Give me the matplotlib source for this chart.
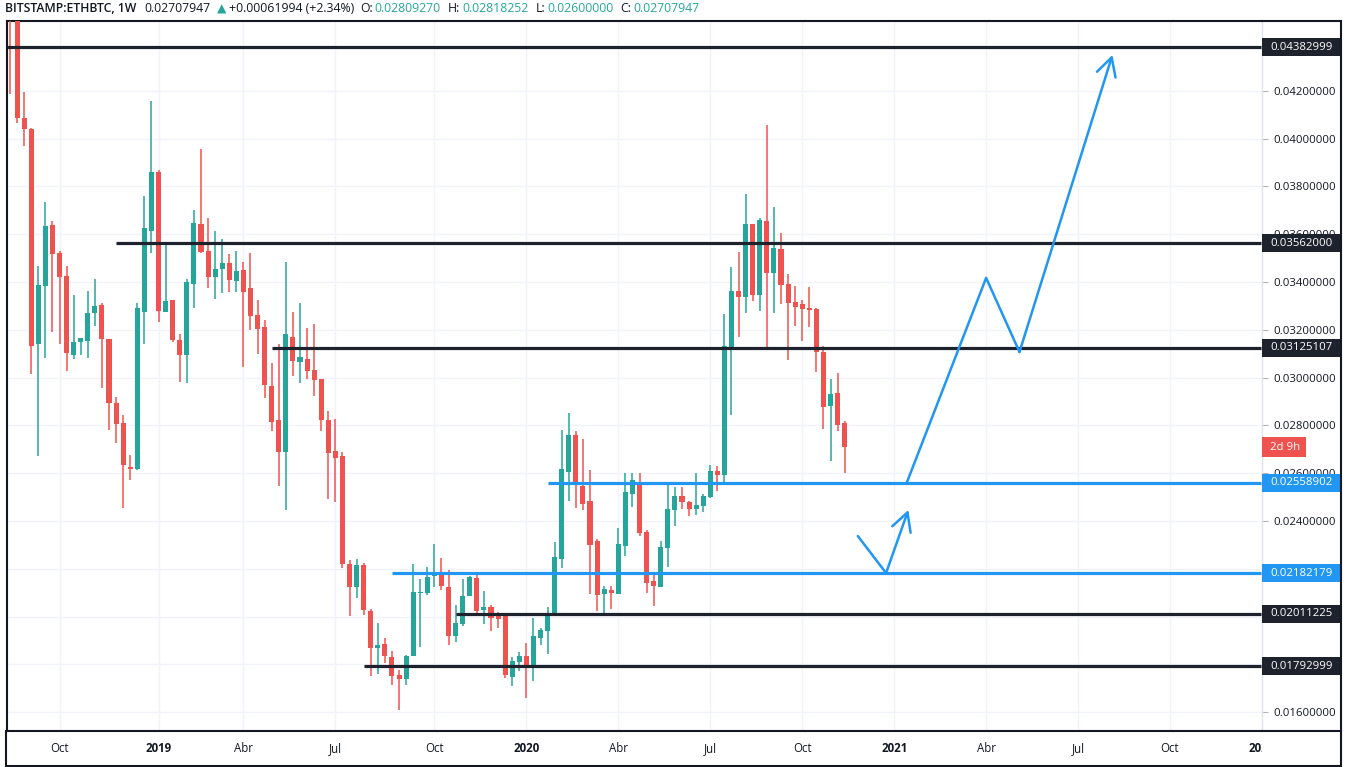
### DEPENDENCIES
### ------------------
import numpy as np
import pandas as pd
import matplotlib
matplotlib.use('Agg')
import matplotlib.pyplot as plt
import matplotlib.dates as mdates
from matplotlib.lines import Line2D
from matplotlib.patches import Rectangle
from matplotlib.transforms import blended_transform_factory, Bbox

### DATA
### ------------------
first_week = '2018-08-13'

opens = [0.0475, 0.0456, 0.04086, 0.04040, 0.03141, 0.03383, 0.03638, 0.03521, 0.03424, 0.03095,
         0.03149, 0.03153, 0.03269, 0.03304, 0.03161, 0.02893, 0.02810, 0.02626, 0.02618, 0.03274,
         0.03614, 0.03860, 0.03274, 0.03324, 0.03157, 0.03095, 0.03391, 0.03643, 0.03529, 0.03420,
         0.03454, 0.03479, 0.03404, 0.03450, 0.03374, 0.03261, 0.03211, 0.02965, 0.02822, 0.02688,
         0.03170, 0.03066, 0.03078, 0.03032, 0.02992, 0.02822, 0.02692, 0.02672, 0.02219, 0.02124,
         0.02215, 0.02023, 0.01868, 0.01886, 0.01831, 0.01755, 0.01739, 0.01835, 0.02099, 0.02099,
         0.02169, 0.02186, 0.02124, 0.01919, 0.01969, 0.02087, 0.02161, 0.02027, 0.02040, 0.02002,
         0.02002, 0.01747, 0.01810, 0.01835, 0.01785, 0.01911, 0.01940, 0.02010, 0.02240, 0.02605,
         0.02759, 0.02546, 0.02483, 0.02316, 0.02095, 0.02111, 0.02095, 0.02295, 0.02513, 0.02563,
         0.02353, 0.02149, 0.02124, 0.02287, 0.02446, 0.02504, 0.02479, 0.02450, 0.02463, 0.02500,
         0.02609, 0.02593, 0.03128, 0.03362, 0.03337, 0.03643, 0.03345, 0.03655, 0.03437, 0.03538,
         0.03391, 0.03316, 0.03308, 0.03291, 0.03287, 0.03107, 0.02881, 0.02935, 0.02809270]
highs = [0.0482, 0.0460, 0.04195, 0.04044, 0.03467, 0.03734, 0.03655, 0.03529, 0.03467, 0.03345,
         0.03165, 0.03362, 0.03412, 0.03312, 0.03161, 0.02918, 0.02843, 0.02676, 0.03312, 0.03759,
         0.04156, 0.03868, 0.03559, 0.03324, 0.03182, 0.03412, 0.03701, 0.03956, 0.03668, 0.03614,
         0.03579, 0.03517, 0.03529, 0.03484, 0.03521, 0.03324, 0.03240, 0.03062, 0.03141, 0.03484,
         0.03274, 0.03312, 0.03207, 0.03224, 0.02992, 0.02860, 0.02827, 0.02688, 0.02236, 0.02240,
         0.02223, 0.02031, 0.01973, 0.01910, 0.01855, 0.01776, 0.01839, 0.02219, 0.02157, 0.02207,
         0.02304, 0.02244, 0.02194, 0.02048, 0.02157, 0.02169, 0.02178, 0.02107, 0.02048, 0.02019,
         0.02006, 0.01831, 0.01851, 0.01890, 0.01994, 0.01952, 0.02040, 0.02312, 0.02781, 0.02851,
         0.02777, 0.02742, 0.02613, 0.02324, 0.02128, 0.02128, 0.02370, 0.02601, 0.02601, 0.02601,
         0.02362, 0.02178, 0.02316, 0.02558, 0.02542, 0.02542, 0.02483, 0.02601, 0.02513, 0.02634,
         0.02630, 0.03265, 0.03462, 0.03525, 0.03768, 0.03643, 0.03668, 0.04057, 0.03713, 0.03605,
         0.03433, 0.03383, 0.03324, 0.03379, 0.03291, 0.03132, 0.02994, 0.03019, 0.02818252]
lows = [0.04187, 0.04064, 0.03968, 0.03015, 0.02672, 0.03082, 0.03190, 0.03140, 0.03027, 0.03078,
        0.03095, 0.03082, 0.03215, 0.02956, 0.02781, 0.02726, 0.02454, 0.02572, 0.02613, 0.03141,
        0.03521, 0.03232, 0.03274, 0.03149, 0.02981, 0.02977, 0.03291, 0.03521, 0.03374, 0.03329,
        0.03354, 0.03358, 0.03358, 0.03045, 0.03199, 0.03099, 0.02915, 0.02777, 0.02546, 0.02446,
        0.03006, 0.02977, 0.02992, 0.02923, 0.02777, 0.02492, 0.02479, 0.02203, 0.02002, 0.02077,
        0.02006, 0.01751, 0.01760, 0.01805, 0.01714, 0.01609, 0.01714, 0.01835, 0.01873, 0.02090,
        0.02124, 0.02111, 0.01881, 0.01894, 0.01960, 0.02087, 0.02014, 0.01969, 0.01940, 0.01952,
        0.01743, 0.01710, 0.01772, 0.01660, 0.01731, 0.01881, 0.01843, 0.02010, 0.02203, 0.02483,
        0.02454, 0.02446, 0.02095, 0.02023, 0.02014, 0.02031, 0.02095, 0.02253, 0.02459, 0.02337,
        0.02099, 0.02044, 0.02124, 0.02207, 0.02378, 0.02450, 0.02421, 0.02425, 0.02438, 0.02496,
        0.02525, 0.02554, 0.02843, 0.03170, 0.03269, 0.03320, 0.03278, 0.03120, 0.03269, 0.03308,
        0.03074, 0.03215, 0.03153, 0.03211, 0.03023, 0.02785, 0.02651, 0.02777, 0.02600000]
closes = [0.0456, 0.04086, 0.04040, 0.03132, 0.03387, 0.03634, 0.03517, 0.03420, 0.03103, 0.03149,
          0.03165, 0.03269, 0.03300, 0.03161, 0.02893, 0.02806, 0.02634, 0.02618, 0.03291, 0.03626,
          0.03860, 0.03278, 0.03320, 0.03157, 0.03095, 0.03399, 0.03647, 0.03525, 0.03420, 0.03454,
          0.03479, 0.03408, 0.03446, 0.03358, 0.03257, 0.03203, 0.02969, 0.02814, 0.02688, 0.03182,
          0.03070, 0.03086, 0.03027, 0.02990, 0.02822, 0.02684, 0.02663, 0.02219, 0.02124, 0.02215,
          0.02027, 0.01868, 0.01881, 0.01835, 0.01751, 0.01739, 0.01835, 0.02103, 0.02103, 0.02165,
          0.02186, 0.02128, 0.01919, 0.01973, 0.02087, 0.02165, 0.02023, 0.02040, 0.01994, 0.01990,
          0.01755, 0.01814, 0.01835, 0.01785, 0.01919, 0.01944, 0.02014, 0.02248, 0.02618, 0.02759,
          0.02550, 0.02471, 0.02299, 0.02090, 0.02115, 0.02099, 0.02304, 0.02521, 0.02572, 0.02349,
          0.02140, 0.02128, 0.02291, 0.02450, 0.02504, 0.02479, 0.02450, 0.02467, 0.02504, 0.02609,
          0.02593, 0.03132, 0.03362, 0.03337, 0.03643, 0.03345, 0.03659, 0.03437, 0.03542, 0.03387,
          0.03312, 0.03295, 0.03287, 0.03283, 0.03107, 0.02876, 0.02931, 0.02802, 0.02707947]

# horizontal levels drawn on the chart
level_prices = [0.04382999, 0.03562000, 0.03125107, 0.02558902, 0.02182179, 0.02011225, 0.01792999]
level_starts = [None, '2018-11-26', '2019-04-29', '2020-01-27', '2019-08-26', '2019-10-28', '2019-07-29']
level_kind = ['black', 'black', 'black', 'blue', 'blue', 'black', 'black']

# projected path (big and small arrows)
path_dates = ['2021-01-16', '2021-04-05', '2021-05-08', '2021-08-08']
path_prices = [0.02555, 0.03417, 0.03107, 0.04350]
small_dates = ['2020-11-29', '2020-12-27', '2021-01-18']
small_prices = [0.02337, 0.02182, 0.02446]

y_ticks = np.arange(0.016, 0.0421, 0.002)

### STYLE
### ------------------
UP = '#26a69a'
DOWN = '#ef5350'
DARK = '#1e222d'
BLUE = '#2196f3'
TXT = '#131722'
GRID = '#f0f3fa'
plt.rcParams['font.family'] = ['Open Sans', 'DejaVu Sans']

W, H = 1348, 767
fig = plt.figure(figsize=(W / 100, H / 100), dpi=100)
ax_l, ax_r, ax_t, ax_b = 7, 1262, 21, 731
ax = fig.add_axes([ax_l / W, 1 - ax_b / H, (ax_r - ax_l) / W, (ax_b - ax_t) / H])

dates = pd.date_range(first_week, periods=len(opens), freq='7D')
xd = mdates.date2num(dates)
px_day = 7.08 / 7.0
x_left = xd[0] - 3 / px_day
x_right = x_left + (ax_r - ax_l) / px_day
y_lo, y_hi = 0.015211, 0.044918
ax.set_xlim(x_left, x_right)
ax.set_ylim(y_lo, y_hi)
px_price = (y_hi - y_lo) / (ax_b - ax_t)

### CANDLES
### ------------------
o = np.array(opens); c = np.array(closes); h = np.array(highs); l = np.array(lows)
cols = np.where(c >= o, UP, DOWN)
ax.vlines(xd, l, h, colors=cols, linewidth=1.1, zorder=3)
body_lo = np.minimum(o, c)
body_h = np.maximum(np.abs(c - o), 0.00004)
ax.bar(xd, body_h, bottom=body_lo, width=5.0, color=cols, linewidth=0, zorder=4)

### LEVELS
### ------------------
trans = blended_transform_factory(ax.transAxes, ax.transData)
for price, start, kind in zip(level_prices, level_starts, level_kind):
    col = DARK if kind == 'black' else BLUE
    x0 = x_left if start is None else mdates.date2num(pd.Timestamp(start))
    ax.hlines(price, x0, x_right, colors=col, linewidth=2.3, zorder=5)

### PROJECTION ARROWS
### ------------------
for dl, pl in [(path_dates, path_prices), (small_dates, small_prices)]:
    xs = mdates.date2num(pd.to_datetime(dl))
    ax.plot(xs[:-1], pl[:-1], color=BLUE, linewidth=1.8, zorder=6, solid_capstyle='round')
    ax.annotate('', xy=(xs[-1], pl[-1]), xytext=(xs[-2], pl[-2]),
                arrowprops=dict(arrowstyle='->,head_length=0.65,head_width=0.35', color=BLUE,
                                lw=1.8, shrinkA=0, shrinkB=0, mutation_scale=20), zorder=6)

### AXES
### ------------------
ticks = []
labels = []
for m in pd.date_range('2018-10-01', '2022-01-01', freq='QS-JAN'):
    mon = m + pd.Timedelta(days=(7 - m.weekday()) % 7)
    ticks.append(mdates.date2num(mon))
    labels.append({1: str(m.year), 4: 'Abr', 7: 'Jul', 10: 'Oct'}[m.month])
ax.set_xticks(ticks)
ax.set_xticklabels(labels)
# the time scale stops where the price scale begins
time_clip = Bbox.from_extents(0, 0, ax_r, H)
for t, lab in zip(ax.get_xticklabels(), labels):
    if lab.isdigit():
        t.set_fontweight('bold')
    t.set_clip_box(time_clip)
    t.set_clip_on(True)
ax.tick_params(axis='x', length=0, pad=8, labelsize=8.3, labelcolor=TXT)

# price scale: a tick label fully hidden by a level label is left out
ax.yaxis.tick_right()
ax.set_yticks(y_ticks)
ylabs = []
for v in y_ticks:
    hidden = min(abs(v - p) for p in level_prices) < 7 * px_price
    ylabs.append('' if hidden else '%.8f' % v)
ax.set_yticklabels(ylabs)
ax.tick_params(axis='y', length=4, width=0.8, color='#b2b5be', pad=4, labelsize=8.2, labelcolor=TXT)

ax.grid(True, color=GRID, linewidth=1.0, zorder=0)
ax.set_axisbelow(True)
for side in ['left', 'top', 'bottom']:
    ax.spines[side].set_color('#131722')
    ax.spines[side].set_linewidth(1.5)
ax.spines['right'].set_color('#e0e3eb')
ax.spines['right'].set_linewidth(1.0)

# price labels on the axis
box_w = 78 / (ax_r - ax_l)
box_h = 9 * px_price
for price, kind in zip(level_prices, level_kind):
    col = DARK if kind == 'black' else BLUE
    ax.add_patch(Rectangle((1.0, price - box_h), box_w, 2 * box_h, transform=trans,
                           facecolor=col, edgecolor='none', clip_on=False, zorder=10))
    ax.annotate('%.8f' % price, xy=(1.0, price), xycoords=trans, xytext=(6, 0),
                textcoords='offset points', va='center', ha='left', fontsize=8.2,
                color='white', zorder=11, annotation_clip=False)

ax.add_patch(Rectangle((1.0, closes[-1] - 10 * px_price), 44 / (ax_r - ax_l), 20 * px_price,
                       transform=trans, facecolor=DOWN, edgecolor='none', clip_on=False, zorder=10))
ax.annotate('2d 9h', xy=(1.0, closes[-1]), xycoords=trans, xytext=(6, 0),
            textcoords='offset points', va='center', ha='left', fontsize=8.2,
            color='white', zorder=11, annotation_clip=False)

# outer frame
def fline(x0, y0, x1, y1, lw=1.5, col='#131722'):
    fig.add_artist(Line2D([x0 / W, x1 / W], [1 - y0 / H, 1 - y1 / H], color=col, linewidth=lw))

fline(ax_r, ax_t, 1341, ax_t)
fline(1341, ax_t, 1341, 766)
fline(6, 766, 1341, 766)
fline(6, ax_b, 6, 766)
fline(ax_r, ax_b, 1341, ax_b)

### HEADER
### ------------------
pieces = [('BITSTAMP:ETHBTC, 1W', TXT, 8), ('0.02707947', TXT, 6), ('\u25b2', UP, 3),
          ('+0.00061994 (+2.34%)', TXT, 6), ('O:', TXT, 2), ('0.02809270', UP, 7),
          ('H:', TXT, 2), ('0.02818252', UP, 7), ('L:', TXT, 2), ('0.02600000', UP, 7),
          ('C:', TXT, 2), ('0.02707947', UP, 0)]
fig.canvas.draw()
renderer = fig.canvas.get_renderer()
xpos = 5
for text, col, gap in pieces:
    fam = ['DejaVu Sans'] if text == '\u25b2' else ['Open Sans', 'DejaVu Sans']
    t = fig.text(xpos / W, 1 - 9 / H, text, color=col, fontsize=8.8, va='center', ha='left',
                 family=fam, fontweight='semibold' if text.startswith('BIT') else 'normal')
    bb = t.get_window_extent(renderer)
    xpos = bb.x1 + gap

fig.savefig('out.png', dpi=100)
